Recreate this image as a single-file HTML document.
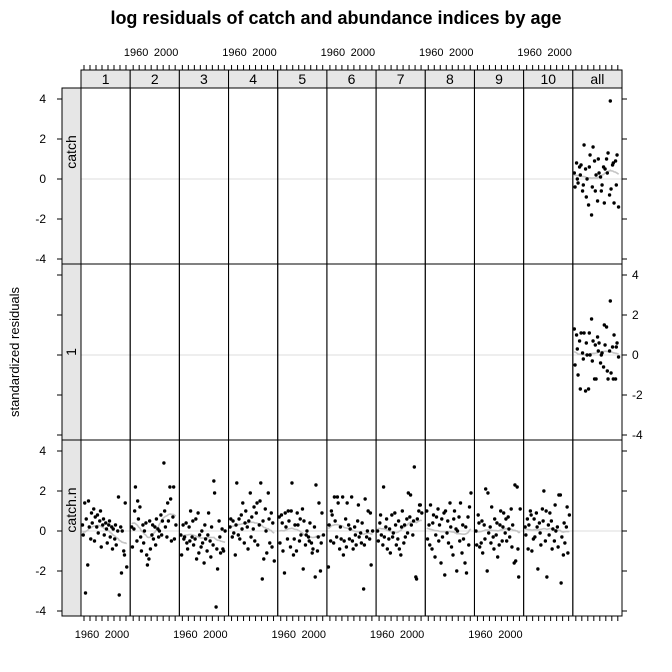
<!DOCTYPE html>
<html><head><meta charset="utf-8"><style>
html,body{margin:0;padding:0;background:#fff;}
svg{display:block;font-family:"Liberation Sans",Arial,sans-serif;}
</style></head><body>
<svg id="chart" width="672" height="672" viewBox="0 0 672 672" xmlns="http://www.w3.org/2000/svg">
<text x="336" y="24" text-anchor="middle" font-size="18" font-weight="bold">log residuals of catch and abundance indices by age</text>
<text transform="translate(19,352) rotate(-90)" text-anchor="middle" font-size="13">standardized residuals</text>
<g id="plot"></g>
</svg>
<script>
const years = [1954,1955,1957,1958,1959,1961,1962,1963,1965,1966,1967,1969,1970,1971,1973,1974,1975,1977,1978,1979,1981,1982,1983,1985,1986,1987,1989,1990,1991,1993,1994,1995,1997,1998,1999,2001,2002,2003,2005,2006,2007,2009,2010,2011,2013];
const ages = ["1","2","3","4","5","6","7","8","9","10","all"];
const rowNames = ["catch","1","catch.n"];
const yTicks = [-4,-2,0,2,4];
const xTicks = [1956,1964,1972,1980,1988,1996,2004,2012];
const xLabels = [1960,2000];
const p1 = [0.3,-0.2,1.4,-3.1,0.6,-1.7,1.5,0.2,-0.4,0.9,0.4,1.1,-0.5,0.7,0.2,0.8,-0.1,0.5,1.0,-0.8,0.3,0.6,-0.2,0.4,0.1,-0.6,0.3,0.5,-0.3,0.2,-0.9,0.1,-0.4,0.3,-0.7,0.0,1.7,-3.2,0.2,-2.1,0.0,-1.0,-1.2,1.4,-1.8];
const p2 = [0.2,-0.8,0.1,1.0,2.2,-0.5,1.5,0.6,1.2,-0.3,-1.0,0.3,-0.6,0.0,0.4,-1.2,-1.7,-1.4,0.5,-0.9,-0.2,0.3,-0.4,0.2,-0.7,0.6,0.1,-0.3,0.0,0.8,-0.2,0.5,3.4,1.0,0.2,-0.3,1.4,0.5,2.2,1.6,-0.5,0.7,2.2,-0.4,0.3];
const p3 = [-0.2,-1.2,0.3,-0.4,-0.3,0.4,-0.6,-0.9,0.2,-0.5,1.0,-0.3,0.5,-0.7,-0.4,0.6,-1.4,0.9,-1.1,-0.2,-0.8,0.0,-0.6,-1.6,0.3,-0.4,-1.0,-0.2,0.9,-0.5,-1.3,0.2,-0.7,2.5,1.9,-3.8,-0.9,-1.9,0.5,-0.3,-1.1,0.1,-0.9,-1.0,0.0];
const p4 = [0.2,0.6,-0.3,0.5,-0.1,-1.2,0.3,2.4,-0.2,0.6,-0.4,0.8,0.1,1.4,-0.6,0.4,1.0,0.2,-0.9,0.5,1.9,-0.3,0.7,0.1,1.2,-0.5,0.9,1.4,-0.7,0.3,1.5,2.4,-2.4,0.5,-1.4,1.1,0.0,-1.1,1.9,0.6,-0.6,0.9,-0.8,0.4,-1.5];
const p5 = [0.7,-0.6,0.8,0.4,-1.0,-2.1,0.9,0.2,-0.4,1.0,0.5,-0.8,1.0,2.4,-1.2,-0.4,0.3,-1.0,0.9,0.3,-0.5,0.6,-0.2,1.1,-1.9,0.5,-0.7,-0.2,0.0,-0.3,-0.5,0.4,-0.6,-1.1,-0.9,0.2,-2.3,2.3,-1.0,-0.3,1.4,-2.0,-0.6,0.9,-0.2];
const p6 = [-1.8,0.3,-0.5,1.0,0.8,-0.6,1.7,0.5,-0.3,1.7,1.4,-0.9,0.2,-0.4,1.7,-1.2,-0.5,0.6,-0.8,1.4,0.3,-0.4,0.1,1.7,-0.5,-0.9,0.2,-0.2,-0.7,0.5,1.3,-0.3,-0.1,-0.6,0.4,-2.9,-0.7,1.6,-0.3,0.0,1.0,-0.4,0.9,-1.7,0.0];
const p7 = [0.0,-0.5,0.4,0.8,-0.2,-0.7,2.2,-0.3,0.2,0.6,-0.9,-0.4,0.1,-1.1,0.8,-0.3,-0.1,0.9,0.3,-0.7,-0.4,0.5,-0.9,-1.2,0.2,1.0,-0.6,0.3,-0.3,0.6,-0.1,1.9,0.7,1.8,0.3,-0.2,0.5,3.2,-2.3,-2.4,0.6,1.0,1.3,1.3,0.9];
const p8 = [1.0,-0.4,0.3,-0.7,1.3,-0.9,0.4,0.8,-1.3,-0.2,0.7,1.1,-0.5,0.3,-1.6,0.6,-0.3,0.9,-2.2,1.0,-0.1,0.5,-0.6,1.4,0.2,-0.8,-1.2,0.6,1.0,0.1,-2.0,0.0,0.7,-0.5,1.4,-1.1,0.3,-0.4,-1.6,0.2,-2.1,0.7,-0.7,1.2,1.9];
const p9 = [0.0,-0.7,0.8,0.4,-0.8,-0.6,0.5,-1.1,0.3,-0.4,2.1,-2.0,1.9,-0.1,0.2,-0.6,1.2,-0.3,-0.9,0.6,-0.2,0.4,-1.3,-0.7,0.3,1.0,-0.5,0.2,0.9,-0.1,0.6,-0.5,0.7,0.1,-0.3,1.1,-0.8,0.3,-1.6,2.3,-1.5,2.2,-0.9,-2.3,1.1];
const p10 = [0.2,-0.2,0.6,-0.9,0.3,1.0,0.8,-1.0,-0.4,0.6,-0.3,0.9,0.2,-1.9,0.4,-0.1,-0.7,1.1,0.5,2.0,-0.5,1.0,-2.3,0.3,-0.2,0.9,0.5,-0.9,0.1,-0.5,1.3,0.0,0.2,-0.8,1.8,1.8,-2.6,-0.3,-1.2,0.4,-0.6,0.2,1.2,-1.1,0.8];
const allCatch = [0.3,-0.4,0.8,0.0,-0.2,0.6,0.2,0.7,-0.6,-0.3,1.7,0.5,-0.9,0.0,-1.3,0.6,1.2,-1.8,-0.4,1.6,0.9,-0.6,0.2,-1.1,1.0,0.3,0.1,-0.6,-0.3,0.6,-1.2,0.5,1.0,0.3,1.3,-0.8,3.9,-0.5,0.7,0.8,-1.2,0.9,-0.3,1.2,-1.4];
const allIndex1 = [1.3,-0.5,1.0,0.3,-1.0,0.7,-1.7,1.1,0.1,-0.2,1.1,-1.8,0.6,0.0,-1.7,1.1,0.0,1.8,-0.3,0.7,-1.2,0.5,-1.2,0.9,0.2,0.6,-0.4,0.0,0.1,-0.6,1.5,0.5,1.4,-0.8,-1.2,0.2,2.7,-0.9,0.4,-1.2,1.0,-1.2,0.4,0.6,-0.1];

const NS="http://www.w3.org/2000/svg";
const g=document.getElementById('plot');
function el(t,a,parent){const e=document.createElementNS(NS,t);for(const k in a)e.setAttribute(k,a[k]);(parent||g).appendChild(e);return e;}
const L=81,R=622,PW=(R-L)/11,TOP=88,PH=176,STRIPT=70;
const Y0=1952,Y1=2017.6;
function xs(col,yr){return L+col*PW+(yr-Y0)/(Y1-Y0)*PW;}
function ys(row,v){return TOP+row*PH+PH/2-v*20+3;}
const series={};
[p1,p2,p3,p4,p5,p6,p7,p8,p9,p10].forEach((p,i)=>{series['2_'+i]=p;});
series['0_10']=allCatch;
series['1_10']=allIndex1;

for(let r=0;r<3;r++){
  for(let c=0;c<11;c++){
    const zl=el('line',{x1:L+c*PW,x2:L+(c+1)*PW,y1:ys(r,0),y2:ys(r,0),stroke:'#dcdcdc','stroke-width':1});
    
    
  }
}
for(const key in series){
  const [r,c]=key.split('_').map(Number);
  const vals=series[key];
  const n=Math.min(vals.length,years.length);
  let pts=[];
  for(let i=0;i<n;i++){
    let s=0,k=0;
    for(let j=Math.max(0,i-12);j<=Math.min(n-1,i+12);j++){const w=1-Math.abs(j-i)/13;s+=vals[j]*w;k+=w;}
    pts.push(xs(c,years[i]).toFixed(1)+','+ys(r,s/k).toFixed(1));
  }
  const sm=el('polyline',{points:pts.join(' '),fill:'none',stroke:'#c4c4c4','stroke-width':1.6});
  
  
  for(let i=0;i<n;i++){
    const d=el('circle',{cx:xs(c,years[i]),cy:ys(r,vals[i]),r:1.7,fill:'#000'});
    
    
  }
}
for(let r=0;r<3;r++)for(let c=0;c<11;c++){
  const b=el('rect',{x:L+c*PW,y:TOP+r*PH,width:PW,height:PH,fill:'none',stroke:'#000','stroke-width':1});
  
  
}
for(let c=0;c<11;c++){
  const s=el('rect',{x:L+c*PW,y:STRIPT,width:PW,height:TOP-STRIPT,fill:'#e6e6e6',stroke:'#000','stroke-width':1});
  
  
  const t=el('text',{x:L+c*PW+PW/2,y:STRIPT+14,'text-anchor':'middle','font-size':14});
  t.textContent=ages[c];
  
  
}
const stripTextY=[152,352,510];
for(let r=0;r<3;r++){
  const s=el('rect',{x:62,y:TOP+r*PH,width:L-62,height:PH,fill:'#e6e6e6',stroke:'#000','stroke-width':1});
  
  
  const t=el('text',{transform:`translate(76,${stripTextY[r]}) rotate(-90)`,'text-anchor':'middle','font-size':14});
  t.textContent=rowNames[r];
  
  
}
for(let c=0;c<11;c++){
  for(const yr of xTicks){
    const x=xs(c,yr);
    el('line',{x1:x,x2:x,y1:STRIPT-5,y2:STRIPT,stroke:'#000','stroke-width':1});
    el('line',{x1:x,x2:x,y1:TOP+3*PH,y2:TOP+3*PH+5,stroke:'#000','stroke-width':1});
  }
  if(c<10){
    for(const yr of xLabels){
      const top=(c%2===1);
      const t=el('text',{x:xs(c,yr),y:top?56:638,'text-anchor':'middle','font-size':11});
      t.textContent=yr;
      
      
    }
  }
}
for(let r=0;r<3;r++){
  for(const v of yTicks){
    const y=ys(r,v);
    el('line',{x1:57,x2:62,y1:y,y2:y,stroke:'#000','stroke-width':1});
    el('line',{x1:R,x2:R+5,y1:y,y2:y,stroke:'#000','stroke-width':1});
    const left=(r!==1);
    const t=el('text',{x:left?46:632,y:y+4,'text-anchor':left?'end':'start','font-size':12});
    t.textContent=v;
    
    
  }
}
</script>
</body></html>
